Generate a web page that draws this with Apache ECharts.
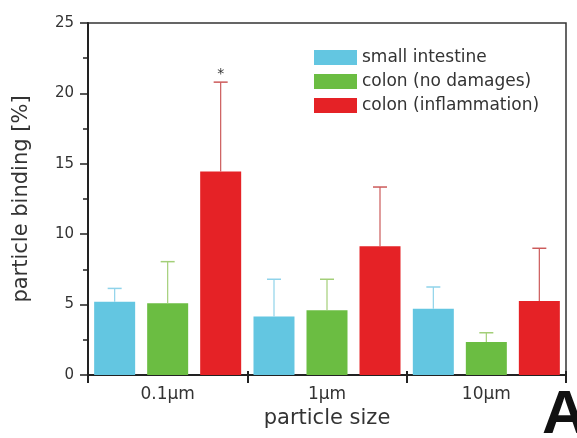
<!DOCTYPE html>
<html><head><meta charset="utf-8">
<script src="https://cdn.jsdelivr.net/npm/echarts@6/dist/echarts.min.js"></script>
<style>html,body{margin:0;padding:0;background:#fff}#c{width:577px;height:438px}</style>
</head><body><div id="c"></div>
<script>
const categories = ['0.1µm', '1µm', '10µm'];
const seriesNames = ['small intestine', 'colon (no damages)', 'colon (inflammation)'];
const smallIntestine = [5.2, 4.15, 4.7];
const colonNoDamages = [5.1, 4.6, 2.35];
const colonInflammation = [14.45, 9.15, 5.25];
// upper end of error bars
const smallIntestineErr = [6.15, 6.8, 6.25];
const colonNoDamagesErr = [8.05, 6.8, 3.0];
const colonInflammationErr = [20.8, 13.35, 9.0];
const significance = ['*', '', ''];
const yTicks = [0, 5, 10, 15, 20, 25];

const barColors = ['#63c6e1', '#6bbd42', '#e52226'];
const errColors = ['#8fd3ea', '#a3cf78', '#cc5a5a'];
const BAR_W = 41, GAP = 12;

function errSeries(idx, vals, errs, marks) {
  return {
    type: 'custom', name: 'err' + idx, z: 5, silent: true,
    data: vals.map((v, i) => [i, v, errs[i], marks ? marks[i] : '']),
    renderItem(params, api) {
      const i = api.value(0);
      const off = (idx - 1) * (BAR_W + GAP);
      const b = api.coord([i, api.value(1)]);
      const t = api.coord([i, api.value(2)]);
      const x = b[0] + off;
      const children = [
        { type: 'line', shape: { x1: x, y1: b[1], x2: x, y2: t[1] }, style: { stroke: errColors[idx], lineWidth: 1.2 } },
        { type: 'line', shape: { x1: x - 7, y1: t[1], x2: x + 7, y2: t[1] }, style: { stroke: errColors[idx], lineWidth: 1.5 } }
      ];
      const m = api.value(3);
      if (m) {
        children.push({ type: 'text', style: { text: m, x: x, y: t[1] - 1, align: 'center', verticalAlign: 'bottom', fontSize: 14, fill: '#333', fontFamily: 'DejaVu Sans' } });
      }
      return { type: 'group', children };
    }
  };
}

const chart = echarts.init(document.getElementById('c'), null, { renderer: 'canvas' });
chart.setOption({
  backgroundColor: '#ffffff',
  animation: false,
  textStyle: { fontFamily: 'DejaVu Sans' },
  grid: { left: 88, right: 11, top: 23, bottom: 63, show: true, borderColor: '#333', borderWidth: 1.5 },
  legend: {
    data: seriesNames, orient: 'vertical', left: 309, top: 44,
    icon: 'rect', itemWidth: 43, itemHeight: 15, itemGap: 7,
    textStyle: { fontSize: 17, color: '#333', fontFamily: 'DejaVu Sans' }
  },
  xAxis: [{
    type: 'category', data: categories,
    axisLine: { lineStyle: { color: '#222', width: 2 } },
    axisTick: { show: true, length: 8, lineStyle: { color: '#222', width: 2 } },
    axisLabel: { fontSize: 17, color: '#333', margin: 11 },
    name: 'particle size', nameLocation: 'middle', nameGap: 33,
    nameTextStyle: { fontSize: 21, color: '#333' }
  }, {
    type: 'category', data: categories, position: 'bottom', gridIndex: 0,
    axisLine: { show: false }, axisLabel: { show: false },
    axisTick: { show: true, inside: true, length: 4, lineStyle: { color: '#222', width: 2 } }
  }],
  yAxis: {
    type: 'value', min: yTicks[0], max: yTicks[yTicks.length - 1], interval: 5,
    splitLine: { show: false },
    axisLine: { show: true, lineStyle: { color: '#222', width: 2 } },
    axisTick: { show: true, length: 8, lineStyle: { color: '#222', width: 1.5 } },
    minorTick: { show: true, splitNumber: 2, length: 5, lineStyle: { color: '#222', width: 1.5 } },
    axisLabel: { fontSize: 15, color: '#333', margin: 14 },
    name: 'particle binding [%]', nameLocation: 'middle', nameGap: 56,
    nameTextStyle: { fontSize: 21, color: '#333' }
  },
  series: [
    { type: 'bar', name: seriesNames[0], data: smallIntestine, barWidth: BAR_W, barGap: (GAP / BAR_W * 100).toFixed(1) + '%', itemStyle: { color: barColors[0] } },
    { type: 'bar', name: seriesNames[1], data: colonNoDamages, barWidth: BAR_W, barGap: (GAP / BAR_W * 100).toFixed(1) + '%', itemStyle: { color: barColors[1] } },
    { type: 'bar', name: seriesNames[2], data: colonInflammation, barWidth: BAR_W, barGap: (GAP / BAR_W * 100).toFixed(1) + '%', itemStyle: { color: barColors[2] } },
    errSeries(0, smallIntestine, smallIntestineErr),
    errSeries(1, colonNoDamages, colonNoDamagesErr),
    errSeries(2, colonInflammation, colonInflammationErr, significance)
  ],
  graphic: [{
    type: 'text', left: 542, top: 385,
    style: { text: 'A', fontSize: 62, fontWeight: 'bold', fill: '#111', fontFamily: 'Liberation Sans Narrow, Liberation Sans, Arial' }
  }]
});
</script></body></html>
